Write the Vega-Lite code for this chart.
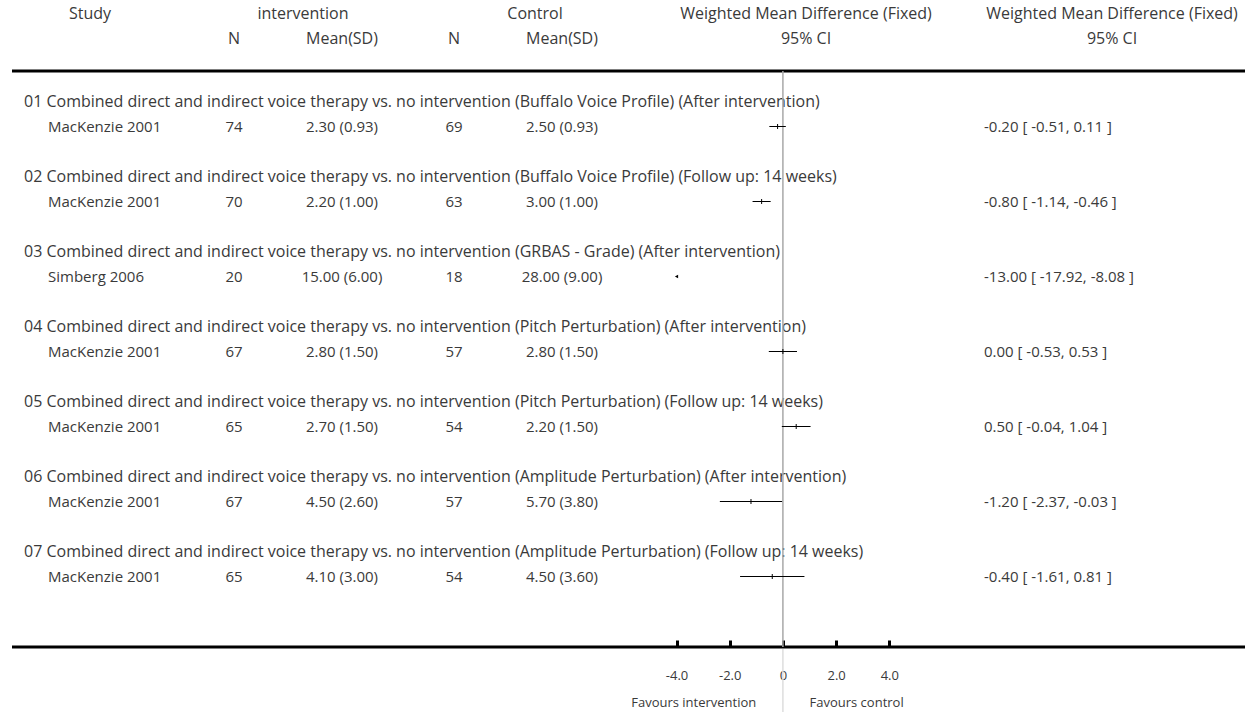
{
  "$schema": "https://vega.github.io/schema/vega-lite/v6.json",
  "width": 1246,
  "height": 712,
  "autosize": {"type": "none"},
  "padding": 0,
  "background": "white",
  "config": {
    "view": {"stroke": null},
    "text": {"font": "Open Sans", "fontSize": 15, "color": "#3a3a3a", "baseline": "middle"}
  },
  "datasets": {
    "headers": [
      {"row": 0, "col": 3, "text": "Study"},
      {"row": 0, "col": 5, "text": "intervention"},
      {"row": 0, "col": 8, "text": "Control"},
      {"row": 0, "col": 10, "text": "Weighted Mean Difference (Fixed)"},
      {"row": 0, "col": 12, "text": "Weighted Mean Difference (Fixed)"},
      {"row": 1, "col": 4, "text": "N"},
      {"row": 1, "col": 6, "text": "Mean(SD)"},
      {"row": 1, "col": 7, "text": "N"},
      {"row": 1, "col": 9, "text": "Mean(SD)"},
      {"row": 1, "col": 10, "text": "95% CI"},
      {"row": 1, "col": 12, "text": "95% CI"}
    ],
    "groups": [
      {"row": 3.5, "label": "01 Combined direct and indirect voice therapy vs. no intervention (Buffalo Voice Profile) (After intervention)"},
      {"row": 6.5, "label": "02 Combined direct and indirect voice therapy vs. no intervention (Buffalo Voice Profile) (Follow up: 14 weeks)"},
      {"row": 9.5, "label": "03 Combined direct and indirect voice therapy vs. no intervention (GRBAS - Grade) (After intervention)"},
      {"row": 12.5, "label": "04 Combined direct and indirect voice therapy vs. no intervention (Pitch Perturbation) (After intervention)"},
      {"row": 15.5, "label": "05 Combined direct and indirect voice therapy vs. no intervention (Pitch Perturbation) (Follow up: 14 weeks)"},
      {"row": 18.5, "label": "06 Combined direct and indirect voice therapy vs. no intervention (Amplitude Perturbation) (After intervention)"},
      {"row": 21.5, "label": "07 Combined direct and indirect voice therapy vs. no intervention (Amplitude Perturbation) (Follow up: 14 weeks)"}
    ],
    "studies": [
      {"row": 4.5, "study": "MacKenzie 2001", "n1": 74, "m1": "2.30 (0.93)", "n2": 69, "m2": "2.50 (0.93)", "est": -0.20, "lo": -0.51, "hi": 0.11, "ci": "-0.20 [ -0.51, 0.11 ]"},
      {"row": 7.5, "study": "MacKenzie 2001", "n1": 70, "m1": "2.20 (1.00)", "n2": 63, "m2": "3.00 (1.00)", "est": -0.80, "lo": -1.14, "hi": -0.46, "ci": "-0.80 [ -1.14, -0.46 ]"},
      {"row": 10.5, "study": "Simberg 2006", "n1": 20, "m1": "15.00 (6.00)", "n2": 18, "m2": "28.00 (9.00)", "est": -13.00, "lo": -17.92, "hi": -8.08, "ci": "-13.00 [ -17.92, -8.08 ]"},
      {"row": 13.5, "study": "MacKenzie 2001", "n1": 67, "m1": "2.80 (1.50)", "n2": 57, "m2": "2.80 (1.50)", "est": 0.00, "lo": -0.53, "hi": 0.53, "ci": "0.00 [ -0.53, 0.53 ]"},
      {"row": 16.5, "study": "MacKenzie 2001", "n1": 65, "m1": "2.70 (1.50)", "n2": 54, "m2": "2.20 (1.50)", "est": 0.50, "lo": -0.04, "hi": 1.04, "ci": "0.50 [ -0.04, 1.04 ]"},
      {"row": 19.5, "study": "MacKenzie 2001", "n1": 67, "m1": "4.50 (2.60)", "n2": 57, "m2": "5.70 (3.80)", "est": -1.20, "lo": -2.37, "hi": -0.03, "ci": "-1.20 [ -2.37, -0.03 ]"},
      {"row": 22.5, "study": "MacKenzie 2001", "n1": 65, "m1": "4.10 (3.00)", "n2": 54, "m2": "4.50 (3.60)", "est": -0.40, "lo": -1.61, "hi": 0.81, "ci": "-0.40 [ -1.61, 0.81 ]"}
    ],
    "favours": [
      {"side": -1, "label": "Favours intervention"},
      {"side": 1, "label": "Favours control"}
    ]
  },
  "layer": [
    {
      "layer": [
        {
          "data": {"name": "headers"},
          "mark": {"type": "text", "align": "center", "fontSize": 16},
          "encoding": {
            "x": {"field": "col", "type": "quantitative", "scale": {"domain": [0,1,2,3,4,5,6,7,8,9,10,11,12,13], "range": [12,24,48,90,234,303,342,454,535,562,806,984,1112,1245], "zero": false, "nice": false}, "axis": null},
            "y": {"field": "row", "type": "quantitative", "scale": {"domain": [-0.56, 27.92], "reverse": true, "zero": false, "nice": false}, "axis": null},
            "text": {"field": "text"}
          }
        },
        {
          "data": {"name": "groups"},
          "mark": {"type": "text", "align": "left", "fontSize": 16},
          "encoding": {
            "x": {"datum": 1, "type": "quantitative", "axis": null},
            "y": {"field": "row", "type": "quantitative", "axis": null},
            "text": {"field": "label"}
          }
        },
        {
          "data": {"name": "studies"},
          "mark": {"type": "text", "align": "left"},
          "encoding": {
            "x": {"datum": 2, "type": "quantitative", "axis": null},
            "y": {"field": "row", "type": "quantitative", "axis": null},
            "text": {"field": "study"}
          }
        },
        {
          "data": {"name": "studies"},
          "mark": {"type": "text", "align": "center"},
          "encoding": {
            "x": {"datum": 4, "type": "quantitative", "axis": null},
            "y": {"field": "row", "type": "quantitative", "axis": null},
            "text": {"field": "n1"}
          }
        },
        {
          "data": {"name": "studies"},
          "mark": {"type": "text", "align": "center"},
          "encoding": {
            "x": {"datum": 6, "type": "quantitative", "axis": null},
            "y": {"field": "row", "type": "quantitative", "axis": null},
            "text": {"field": "m1"}
          }
        },
        {
          "data": {"name": "studies"},
          "mark": {"type": "text", "align": "center"},
          "encoding": {
            "x": {"datum": 7, "type": "quantitative", "axis": null},
            "y": {"field": "row", "type": "quantitative", "axis": null},
            "text": {"field": "n2"}
          }
        },
        {
          "data": {"name": "studies"},
          "mark": {"type": "text", "align": "center"},
          "encoding": {
            "x": {"datum": 9, "type": "quantitative", "axis": null},
            "y": {"field": "row", "type": "quantitative", "axis": null},
            "text": {"field": "m2"}
          }
        },
        {
          "data": {"name": "studies"},
          "mark": {"type": "text", "align": "left"},
          "encoding": {
            "x": {"datum": 11, "type": "quantitative", "axis": null},
            "y": {"field": "row", "type": "quantitative", "axis": null},
            "text": {"field": "ci"}
          }
        },
        {
          "data": {"values": [{}]},
          "mark": {"type": "rule", "color": "black", "strokeWidth": 3},
          "encoding": {
            "x": {"datum": 0, "type": "quantitative", "axis": null},
            "x2": {"datum": 13},
            "y": {"datum": 2.28, "type": "quantitative", "axis": null}
          }
        },
        {
          "data": {"values": [{}]},
          "mark": {"type": "rule", "color": "black", "strokeWidth": 3},
          "encoding": {
            "x": {"datum": 0, "type": "quantitative", "axis": null},
            "x2": {"datum": 13},
            "y": {"datum": 25.32, "type": "quantitative", "axis": null}
          }
        }
      ]
    },
    {
      "layer": [
        {
          "data": {"values": [{}]},
          "mark": {"type": "rule", "color": "#a8a8a8", "strokeWidth": 1.5},
          "encoding": {
            "x": {"datum": 0, "type": "quantitative",
              "scale": {"domain": [-4, 4], "range": [676.5, 889.3], "clamp": true, "zero": false, "nice": false},
              "axis": {
                "orient": "bottom", "offset": -65, "domain": false, "grid": false,
                "values": [-4, -2, 0, 2, 4],
                "labelExpr": "datum.value == 0 ? '0' : (datum.value < 0 ? '-' : '') + format(abs(datum.value), '.1f')",
                "ticks": true, "tickSize": -7, "tickWidth": 3, "tickColor": "black",
                "labelFont": "Open Sans", "labelFontSize": 13, "labelColor": "#3a3a3a",
                "labelBaseline": "middle", "labelPadding": 35, "labelFlush": false,
                "title": null
              }
            },
            "y": {"datum": 2.28, "type": "quantitative", "axis": null},
            "y2": {"datum": 25.32}
          }
        },
        {
          "data": {"values": [{}]},
          "mark": {"type": "rule", "color": "#dddddd", "strokeWidth": 1.5},
          "encoding": {
            "x": {"datum": 0, "type": "quantitative"},
            "y": {"datum": 25.4, "type": "quantitative", "axis": null},
            "y2": {"datum": 27.92}
          }
        },
        {
          "data": {"name": "studies"},
          "mark": {"type": "rule", "color": "black", "strokeWidth": 1},
          "encoding": {
            "x": {"field": "lo", "type": "quantitative"},
            "x2": {"field": "hi"},
            "y": {"field": "row", "type": "quantitative", "axis": null}
          }
        },
        {
          "data": {"name": "studies"},
          "transform": [{"filter": "datum.est >= -4 && datum.est <= 4"}],
          "mark": {"type": "tick", "orient": "vertical", "color": "black", "size": 5, "thickness": 1, "opacity": 1},
          "encoding": {
            "x": {"field": "est", "type": "quantitative"},
            "y": {"field": "row", "type": "quantitative", "axis": null}
          }
        },
        {
          "data": {"name": "studies"},
          "transform": [{"filter": "datum.hi < -4"}],
          "mark": {"type": "point", "shape": "triangle-left", "filled": true, "color": "black", "size": 14, "opacity": 1},
          "encoding": {
            "x": {"field": "lo", "type": "quantitative"},
            "y": {"field": "row", "type": "quantitative", "axis": null}
          }
        },
        {
          "data": {"name": "favours"},
          "transform": [{"filter": "datum.side < 0"}],
          "mark": {"type": "text", "align": "right", "fontSize": 13},
          "encoding": {
            "x": {"field": "side", "type": "quantitative"},
            "y": {"datum": 27.55, "type": "quantitative", "axis": null},
            "text": {"field": "label"}
          }
        },
        {
          "data": {"name": "favours"},
          "transform": [{"filter": "datum.side > 0"}],
          "mark": {"type": "text", "align": "left", "fontSize": 13},
          "encoding": {
            "x": {"field": "side", "type": "quantitative"},
            "y": {"datum": 27.55, "type": "quantitative", "axis": null},
            "text": {"field": "label"}
          }
        }
      ]
    }
  ],
  "resolve": {"scale": {"x": "independent"}}
}
